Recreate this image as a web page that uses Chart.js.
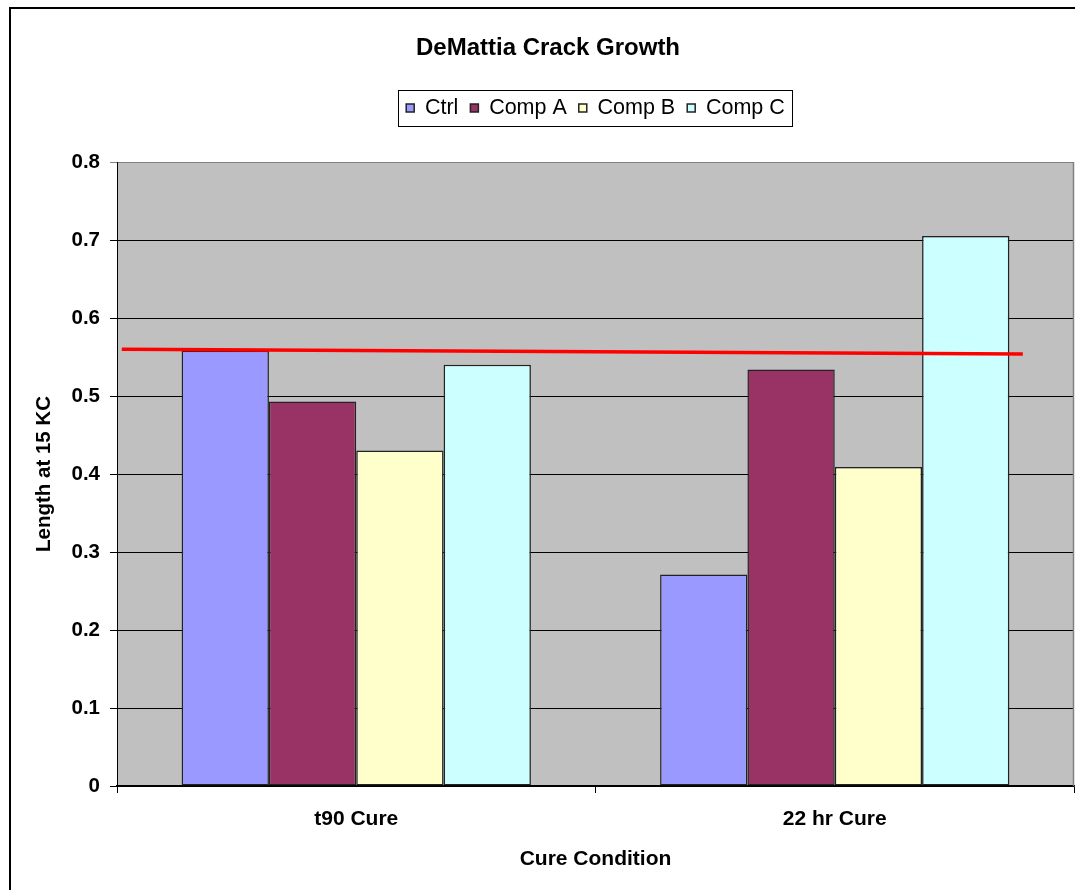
<!DOCTYPE html>
<html>
<head>
<meta charset="utf-8">
<title>DeMattia Crack Growth</title>
<script src="https://cdn.jsdelivr.net/npm/chart.js@4/dist/chart.umd.min.js"></script>
<style>
  html, body { margin: 0; padding: 0; background: #ffffff; }
  #wrap { position: relative; width: 1075px; height: 890px; overflow: hidden; }
  #frame { position: absolute; left: 9px; top: 7px; width: 1200px; height: 1000px; border: 2px solid #000; box-sizing: border-box; }
  #chart { position: absolute; left: 0; top: 0; }
</style>
</head>
<body>
<div id="wrap">
  <div id="frame"></div>
  <canvas id="chart" width="1075" height="890"></canvas>
</div>
<script>
// Crack length at 15 kilocycles for each compound and cure condition
const categories = ['t90 Cure', '22 hr Cure'];
const seriesNames = ['Ctrl', 'Comp A', 'Comp B', 'Comp C'];
const ctrlValues = [0.558, 0.271];
const compAValues = [0.493, 0.534];
const compBValues = [0.430, 0.409];
const compCValues = [0.540, 0.705];

// Control reference line, endpoints in category-index units
const refLineX = [-0.49, 1.393];
const refLineY = [0.560, 0.554];

// Value-axis tick labels
const yTickLabels = ['0', '0.1', '0.2', '0.3', '0.4', '0.5', '0.6', '0.7', '0.8'];

const seriesColors = ['#9999FF', '#993366', '#FFFFCC', '#CCFFFF'];
const seriesValues = [ctrlValues, compAValues, compBValues, compCValues];

const FONT = "'Liberation Sans', Arial, sans-serif";
Chart.defaults.font.family = FONT;
Chart.defaults.color = '#000';

const barDatasets = seriesNames.map((name, i) => ({
  label: name,
  data: seriesValues[i],
  backgroundColor: seriesColors[i],
  borderColor: '#222',
  borderWidth: 1.5,
  borderSkipped: false,
  barPercentage: 1.0,
  categoryPercentage: 0.73
}));

// Plot background, reference line, plot frame and the boxed legend
const decor = {
  id: 'decor',
  beforeDraw(chart) {
    const a = chart.chartArea, c = chart.ctx;
    c.save();
    c.fillStyle = '#C0C0C0';
    c.fillRect(a.left, a.top, a.right - a.left, a.bottom - a.top);
    c.restore();
  },
  afterDatasetsDraw(chart) {
    const a = chart.chartArea, c = chart.ctx;
    const xs = chart.scales.x, ys = chart.scales.y;
    c.save();
    c.beginPath();
    c.rect(a.left, a.top, a.right - a.left, a.bottom - a.top);
    c.clip();
    c.strokeStyle = '#FF0000';
    c.lineWidth = 3.5;
    c.beginPath();
    refLineX.forEach((xv, i) => {
      const px = xs.getPixelForValue(xv);
      const py = ys.getPixelForValue(refLineY[i]);
      if (i === 0) c.moveTo(px, py); else c.lineTo(px, py);
    });
    c.stroke();
    c.restore();
  },
  afterDraw(chart) {
    const a = chart.chartArea, c = chart.ctx;
    c.save();
    c.strokeStyle = '#808080';
    c.lineWidth = 1.5;
    c.beginPath();
    c.moveTo(a.right - 0.5, a.top);
    c.lineTo(a.right - 0.5, a.bottom);
    c.stroke();

    const boxes = chart.legend.legendHitBoxes;
    if (boxes && boxes.length) {
      const first = boxes[0], last = boxes[boxes.length - 1];
      const cy = first.top + first.height / 2;
      const x0 = first.left - 8, x1 = last.left + last.width + 7;
      c.strokeStyle = '#000';
      c.lineWidth = 1;
      c.strokeRect(Math.round(x0) + 0.5, Math.round(cy - 18) + 0.5, Math.round(x1 - x0), 36);
    }
    c.restore();
  }
};

new Chart(document.getElementById('chart'), {
  type: 'bar',
  data: { labels: categories, datasets: barDatasets },
  options: {
    responsive: false,
    animation: false,
    layout: { padding: { left: 22, right: 1, top: 0, bottom: 0 } },
    plugins: {
      tooltip: { enabled: false },
      title: {
        display: true,
        text: 'DeMattia Crack Growth',
        font: { size: 24, weight: 'bold', family: FONT },
        color: '#000',
        padding: { top: 33.6, bottom: 22.85 }
      },
      // empty band between the legend and the plot
      subtitle: {
        display: true,
        text: '',
        weight: 500,
        font: { size: 1, lineHeight: 1 },
        padding: { top: 32.25, bottom: 0 }
      },
      legend: {
        display: true,
        position: 'top',
        fullSize: false,
        labels: {
          boxWidth: 8,
          boxHeight: 8,
          padding: 12,
          font: { size: 21.5, family: FONT },
          color: '#000'
        }
      }
    },
    scales: {
      x: {
        type: 'category',
        position: 'bottom',
        offset: true,
        grid: {
          display: true,
          offset: true,
          drawOnChartArea: false,
          drawTicks: true,
          tickLength: 7,
          color: '#000',
          lineWidth: 1
        },
        border: { display: true, color: '#000', width: 1.5 },
        ticks: {
          padding: 14,
          font: { size: 21, weight: 'bold', family: FONT },
          color: '#000',
          maxRotation: 0
        },
        title: {
          display: true,
          text: 'Cure Condition',
          font: { size: 21, weight: 'bold', family: FONT },
          color: '#000',
          padding: { top: 0, bottom: 18.4 }
        },
        afterFit(scale) { scale.height = 104; }
      },
      y: {
        type: 'linear',
        position: 'left',
        min: 0,
        max: 0.8,
        ticks: {
          stepSize: 0.1,
          padding: 10,
          font: { size: 20.5, weight: 'bold', family: FONT },
          color: '#000',
          callback: (v, i) => yTickLabels[i]
        },
        grid: {
          drawTicks: true,
          tickLength: 7,
          lineWidth: 1,
          color: (ctx) => (ctx.tick && ctx.tick.value >= 0.8 - 1e-9) ? '#808080' : '#000',
          tickColor: (ctx) => (ctx.tick && ctx.tick.value >= 0.8 - 1e-9) ? '#808080' : '#000'
        },
        border: { display: true, color: '#000', width: 1 },
        title: {
          display: true,
          text: 'Length at 15 KC',
          font: { size: 20.5, weight: 'bold', family: FONT },
          color: '#000',
          padding: { top: 9.7, bottom: 0 }
        },
        afterFit(scale) { scale.width = 95; }
      }
    }
  },
  plugins: [decor]
});
</script>
</body>
</html>
